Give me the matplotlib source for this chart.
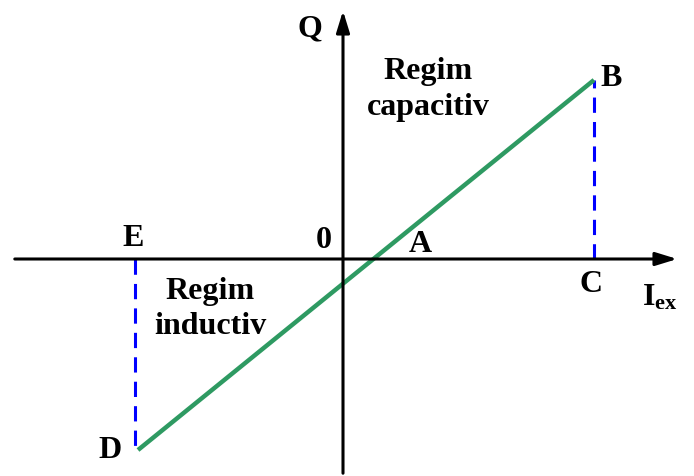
import matplotlib.pyplot as plt

# chart coordinates (origin at the axes crossing)
x_axis_span = [-331, 337]
y_axis_span = [-217, 251]
line_x = [-205, 251]
line_y = [-191, 179]
dash_left_x = [-208, -208]
dash_left_y = [0, -191]
dash_right_x = [251, 251]
dash_right_y = [0, 179]

point_labels = ["Q", "B", "C", "E", "D", "0", "A"]
point_pos = [(-33, 230), (268, 180), (248, -25), (-210, 20), (-233, -192), (-19, 18), (77, 14)]

plt.rcParams["font.family"] = ["Liberation Serif", "DejaVu Serif"]
plt.rcParams["mathtext.fontset"] = "custom"
plt.rcParams["mathtext.rm"] = "Liberation Serif:bold"
plt.rcParams["mathtext.bf"] = "Liberation Serif:bold"

fig = plt.figure(figsize=(6.94, 4.76), dpi=100)
ax = fig.add_axes([0, 0, 1, 1])
ax.set_xlim(-343, 351)
ax.set_ylim(-217, 259)
ax.axis("off")

# axes with arrows
ax.annotate("", xy=(x_axis_span[1], 0), xytext=(x_axis_span[0], 0),
            arrowprops=dict(arrowstyle="-|>,head_length=1.3,head_width=0.4", color="black", lw=2.2))
ax.annotate("", xy=(0, y_axis_span[1]), xytext=(0, y_axis_span[0]),
            arrowprops=dict(arrowstyle="-|>,head_length=1.3,head_width=0.4", color="black", lw=2.2))

# dashed verticals
ax.plot(dash_left_x, dash_left_y, color="#0000ff", lw=2.2, dashes=(5, 3))
ax.plot(dash_right_x, dash_right_y, color="#0000ff", lw=2.2, dashes=(5, 3))

# characteristic
ax.plot(line_x, line_y, color="#2e9a62", lw=3.2, solid_capstyle="butt")

for lab, (px, py) in zip(point_labels, point_pos):
    ax.text(px, py, lab, fontsize=23, fontweight="bold", ha="center", va="center")

ax.text(85, 187, "Regim", fontsize=23, fontweight="bold", ha="center", va="center")
ax.text(85, 152, "capacitiv", fontsize=23, fontweight="bold", ha="center", va="center")
ax.text(-133, -33, "Regim", fontsize=23, fontweight="bold", ha="center", va="center")
ax.text(-133, -68, "inductiv", fontsize=23, fontweight="bold", ha="center", va="center")

ax.text(317, -39, r"$\mathbf{I_{ex}}$", fontsize=23, ha="center", va="center")

fig.savefig("out.png", dpi=100)
